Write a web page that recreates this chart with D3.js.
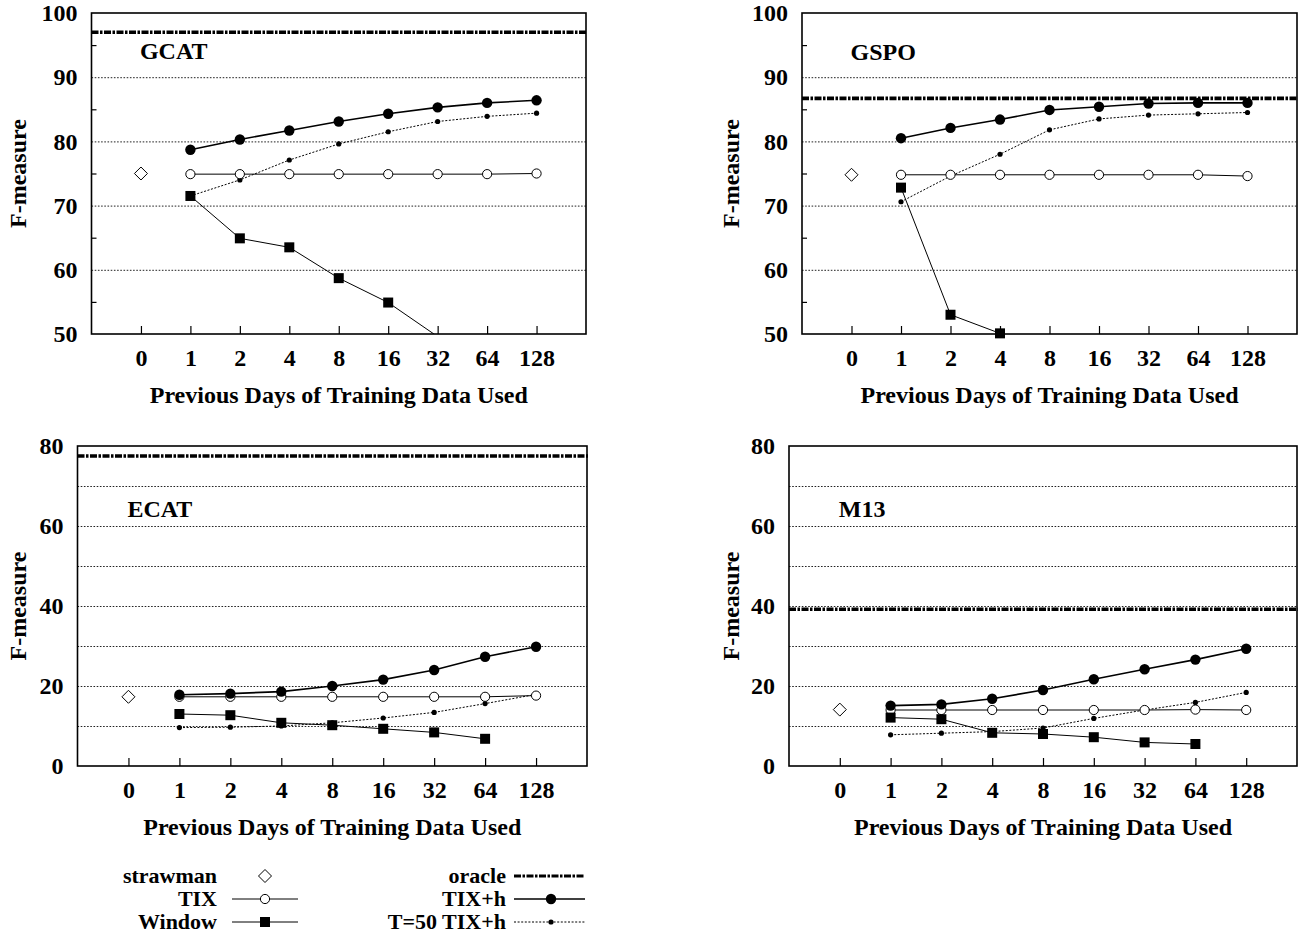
<!doctype html>
<html lang="en">
<head>
  <meta charset="utf-8">
  <style>
    body { margin: 0; background: #fff; }
    text { font-family: "Liberation Serif", "Times New Roman", serif; font-weight: bold; fill: #000; }
  </style>
</head>
<body>
  <script src="https://d3js.org/d3.v7.min.js"></script>
  <div id="chart"></div>
  <script>
  // ---- data ----
  var days = ["0", "1", "2", "4", "8", "16", "32", "64", "128"];
  var panelNames = ["GCAT", "GSPO", "ECAT", "M13"];
  var yDomains = [[50, 100], [50, 100], [0, 80], [0, 80]];

  var strawman = [75.0, 74.8, 17.3, 14.1];
  var oracle = [97.0, 86.7, 77.5, 39.2];

  // values for days 1..128
  var tix = [
    [74.9, 74.9, 74.9, 74.9, 74.9, 74.9, 74.9, 75.0],
    [74.8, 74.8, 74.8, 74.8, 74.8, 74.8, 74.8, 74.6],
    [17.3, 17.3, 17.3, 17.3, 17.3, 17.3, 17.3, 17.6],
    [14.0, 14.0, 14.0, 14.0, 14.0, 14.0, 14.1, 14.0]
  ];
  var tixH = [
    [78.7, 80.3, 81.7, 83.1, 84.3, 85.3, 86.0, 86.4],
    [80.5, 82.1, 83.4, 84.9, 85.4, 85.9, 86.0, 86.0],
    [17.8, 18.1, 18.6, 20.0, 21.6, 24.0, 27.3, 29.8],
    [15.1, 15.4, 16.8, 19.0, 21.7, 24.2, 26.6, 29.3]
  ];
  var t50TixH = [
    [71.5, 74.0, 77.1, 79.6, 81.5, 83.1, 83.9, 84.4],
    [70.6, 74.6, 78.0, 81.8, 83.5, 84.1, 84.3, 84.5],
    [9.6, 9.7, 10.0, 10.8, 12.0, 13.4, 15.6, 17.9],
    [7.8, 8.2, 8.6, 9.5, 11.9, 14.0, 15.9, 18.4]
  ];
  var windowF = [
    [71.5, 64.9, 63.5, 58.7, 54.9, 49.6, null, null],
    [72.8, 53.0, 50.1, null, null, null, null, null],
    [13.0, 12.7, 10.8, 10.2, 9.3, 8.4, 6.8, null],
    [12.1, 11.7, 8.3, 8.0, 7.2, 5.9, 5.5, null]
  ];

  var legendLeft = ["strawman", "TIX", "Window"];
  var legendRight = ["oracle", "TIX+h", "T=50 TIX+h"];

  // ---- layout ----
  var width = 1302, height = 936;
  var frames = [
    {x0: 91.5, x1: 586, y0: 13, y1: 334, yt: 18, ty: 59},
    {x0: 802, x1: 1297, y0: 13, y1: 334, yt: 731, ty: 60},
    {x0: 77.5, x1: 587, y0: 446, y1: 766, yt: 18, ty: 517},
    {x0: 789, x1: 1297, y0: 446, y1: 766, yt: 731, ty: 517}
  ];

  var svg = d3.select("#chart").append("svg")
      .attr("width", width)
      .attr("height", height);

  function drawMarker(sel, kind, cx, cy) {
    if (kind == "open") {
      sel.append("circle").attr("cx", cx).attr("cy", cy).attr("r", 4.6)
        .attr("fill", "#fff").attr("stroke", "#000").attr("stroke-width", 1);
    } else if (kind == "dot") {
      sel.append("circle").attr("cx", cx).attr("cy", cy).attr("r", 5.2).attr("fill", "#000");
    } else if (kind == "small") {
      sel.append("circle").attr("cx", cx).attr("cy", cy).attr("r", 2.6).attr("fill", "#000");
    } else if (kind == "square") {
      sel.append("rect").attr("x", cx - 5).attr("y", cy - 5).attr("width", 10).attr("height", 10).attr("fill", "#000");
    } else if (kind == "diamond") {
      sel.append("path")
        .attr("d", "M" + cx + "," + (cy - 6.5) + "L" + (cx + 6.5) + "," + cy + "L" + cx + "," + (cy + 6.5) + "L" + (cx - 6.5) + "," + cy + "Z")
        .attr("fill", "#fff").attr("stroke", "#000").attr("stroke-width", 1);
    }
  }

  var series = [
    {vals: t50TixH, marker: "small", width: 1, dash: "2,1.6"},
    {vals: tix, marker: "open", width: 1, dash: null},
    {vals: windowF, marker: "square", width: 1, dash: null},
    {vals: tixH, marker: "dot", width: 1.6, dash: null}
  ];

  frames.forEach(function (f, p) {
    var g = svg.append("g");
    var x = d3.scaleLinear().domain([-1, 9]).range([f.x0, f.x1]);
    var dom = yDomains[p];
    var y = d3.scaleLinear().domain(dom).range([f.y1, f.y0]);
    var top = p < 2;

    var clipId = "clip" + p;
    svg.append("clipPath").attr("id", clipId).append("rect")
      .attr("x", f.x0).attr("y", f.y0).attr("width", f.x1 - f.x0).attr("height", f.y1 - f.y0);

    // dotted gridlines
    var gridVals = top ? [60, 70, 80, 90] : [10, 20, 30, 40, 50, 60, 70];
    var grid = g.append("g")
      .attr("transform", "translate(" + f.x0 + ",0)")
      .call(d3.axisLeft(y).tickValues(gridVals).tickSize(-(f.x1 - f.x0)).tickFormat(""));
    grid.select(".domain").remove();
    grid.selectAll("line").attr("stroke", "#222").attr("stroke-width", 1).attr("stroke-dasharray", "1.6,1.6");

    // minor inward ticks on top panels
    if (top) {
      var minor = g.append("g")
        .attr("transform", "translate(" + f.x0 + ",0)")
        .call(d3.axisLeft(y).tickValues([55, 65, 75, 85, 95]).tickSize(-5).tickFormat(""));
      minor.select(".domain").remove();
      minor.selectAll("line").attr("stroke", "#000").attr("stroke-width", 1.2);
    }

    // y labels
    var labelVals = top ? [50, 60, 70, 80, 90, 100] : [0, 20, 40, 60, 80];
    var yl = g.append("g")
      .attr("transform", "translate(" + f.x0 + ",0)")
      .call(d3.axisLeft(y).tickValues(labelVals).tickSize(0).tickPadding(14).tickFormat(d3.format("d")));
    yl.select(".domain").remove();
    yl.selectAll("text").attr("font-size", 24).attr("font-family", null).attr("fill", null);

    // x axis with inward ticks
    var xa = g.append("g")
      .attr("transform", "translate(0," + f.y1 + ")")
      .call(d3.axisBottom(x).tickValues(d3.range(9)).tickSize(-8).tickPadding(15).tickFormat(function (i) { return days[i]; }));
    xa.select(".domain").remove();
    xa.selectAll("line").attr("stroke", "#000").attr("stroke-width", 1.2);
    xa.selectAll("text").attr("font-size", 24).attr("font-family", null).attr("fill", null);

    // axis titles
    g.append("text")
      .attr("x", (f.x0 + f.x1) / 2).attr("y", f.y1 + 69)
      .attr("text-anchor", "middle").attr("font-size", 24)
      .text("Previous Days of Training Data Used");
    g.append("text")
      .attr("transform", "translate(" + f.yt + "," + ((f.y0 + f.y1) / 2) + ") rotate(-90)")
      .attr("dy", "0.35em")
      .attr("text-anchor", "middle").attr("font-size", 24)
      .text("F-measure");

    // panel name
    g.append("text")
      .attr("x", x(0) - 1).attr("y", f.ty)
      .attr("font-size", 24)
      .text(panelNames[p]);

    // oracle line
    g.append("line")
      .attr("x1", f.x0).attr("x2", f.x1 + 1)
      .attr("y1", y(oracle[p])).attr("y2", y(oracle[p]))
      .attr("stroke", "#000").attr("stroke-width", 3.6)
      .attr("stroke-dasharray", "7,1.5,2.5,1.5");

    // series
    var plot = g.append("g").attr("clip-path", "url(#" + clipId + ")");
    series.forEach(function (s) {
      var vals = s.vals[p];
      var line = d3.line()
        .defined(function (d) { return d != null; })
        .x(function (d, i) { return x(i + 1); })
        .y(function (d) { return y(d); });
      plot.append("path")
        .attr("d", line(vals))
        .attr("fill", "none").attr("stroke", "#000")
        .attr("stroke-width", s.width)
        .attr("stroke-dasharray", s.dash);
    });
    var marks = g.append("g");
    series.forEach(function (s) {
      s.vals[p].forEach(function (d, i) {
        if (d == null || d < dom[0] || d > dom[1]) return;
        drawMarker(marks, s.marker, x(i + 1), y(d));
      });
    });
    drawMarker(marks, "diamond", x(0), y(strawman[p]));

    // frame
    g.append("rect")
      .attr("x", f.x0).attr("y", f.y0)
      .attr("width", f.x1 - f.x0).attr("height", f.y1 - f.y0)
      .attr("fill", "none").attr("stroke", "#000").attr("stroke-width", 1.6);
  });

  // ---- legend ----
  var legend = svg.append("g");
  var rowY = [876, 899, 922];
  legendLeft.forEach(function (name, i) {
    legend.append("text")
      .attr("x", 217).attr("y", rowY[i]).attr("dy", "0.33em")
      .attr("text-anchor", "end").attr("font-size", 22)
      .text(name);
  });
  legendRight.forEach(function (name, i) {
    legend.append("text")
      .attr("x", 506).attr("y", rowY[i]).attr("dy", "0.33em")
      .attr("text-anchor", "end").attr("font-size", 22)
      .text(name);
  });
  // left samples
  drawMarker(legend, "diamond", 265, rowY[0]);
  [1, 2].forEach(function (i) {
    legend.append("line").attr("x1", 232).attr("x2", 298)
      .attr("y1", rowY[i]).attr("y2", rowY[i])
      .attr("stroke", "#000").attr("stroke-width", 1);
  });
  drawMarker(legend, "open", 265, rowY[1]);
  drawMarker(legend, "square", 265, rowY[2]);
  // right samples
  legend.append("line").attr("x1", 514).attr("x2", 585)
    .attr("y1", rowY[0]).attr("y2", rowY[0])
    .attr("stroke", "#000").attr("stroke-width", 3)
    .attr("stroke-dasharray", "7,1.5,2.5,1.5");
  legend.append("line").attr("x1", 514).attr("x2", 585)
    .attr("y1", rowY[1]).attr("y2", rowY[1])
    .attr("stroke", "#000").attr("stroke-width", 1.6);
  drawMarker(legend, "dot", 551, rowY[1]);
  legend.append("line").attr("x1", 514).attr("x2", 585)
    .attr("y1", rowY[2]).attr("y2", rowY[2])
    .attr("stroke", "#000").attr("stroke-width", 1)
    .attr("stroke-dasharray", "2,1.6");
  drawMarker(legend, "small", 551, rowY[2]);
  </script>
</body>
</html>
